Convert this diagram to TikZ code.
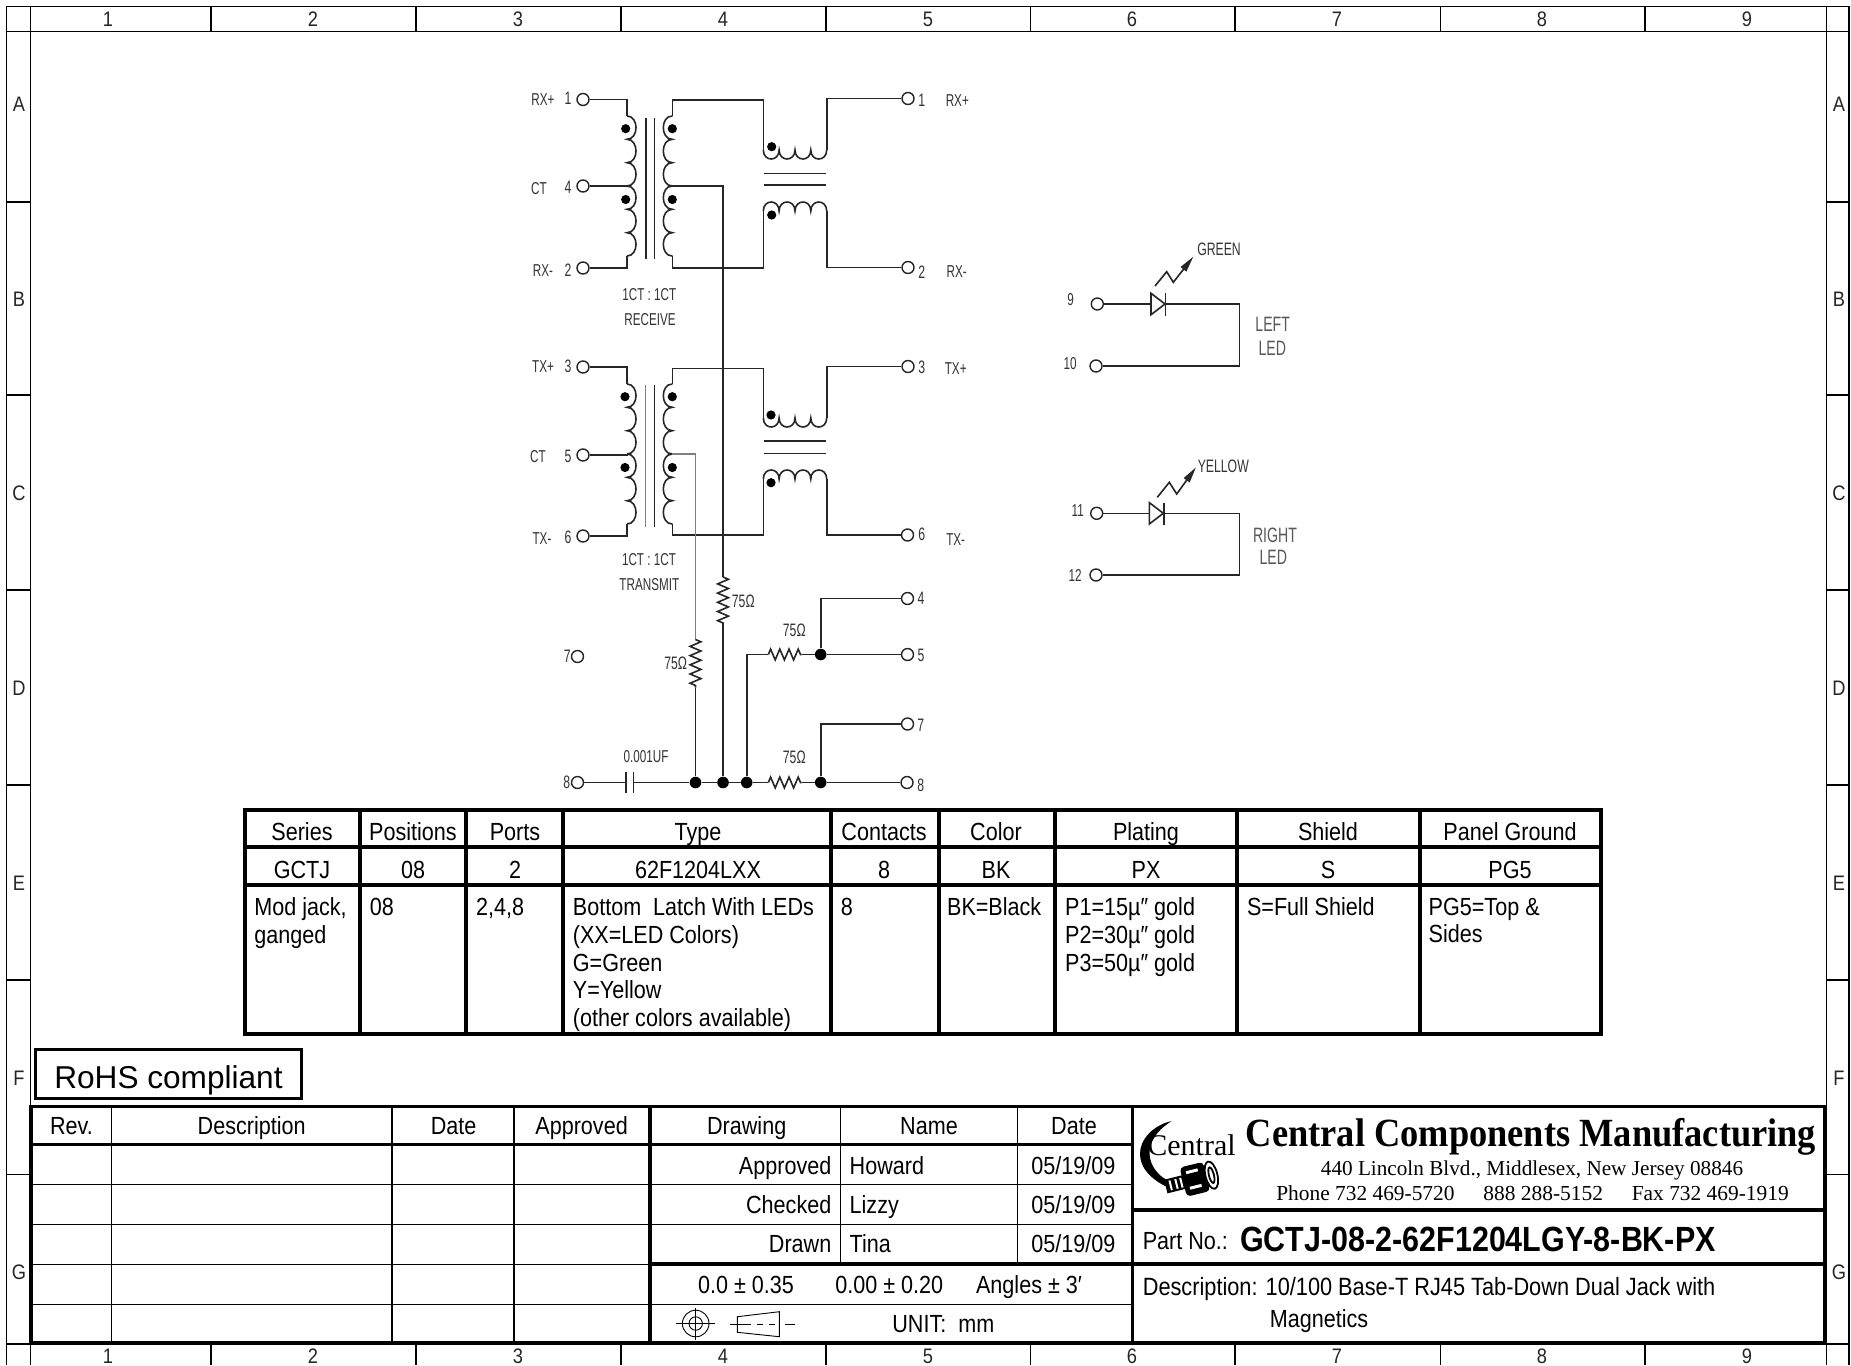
\documentclass[tikz,border=0pt]{standalone}
\usepackage{fontspec}
\usepackage{tikz}
\usepackage{xcolor}
\usetikzlibrary{arrows.meta,calc,shapes,decorations.pathmorphing}
\setmainfont[FakeStretch=0.87]{Liberation Sans}
\newfontfamily\schemfont[FakeStretch=0.68]{Liberation Sans}
\newfontfamily\rohsfont{Liberation Sans}
\newfontfamily\logofont{Liberation Serif}
\newfontfamily\companyfont[FakeStretch=0.91]{Liberation Serif}
\tikzstyle{wire} =
  [ line width=0.8pt
  , color=black!85
  ]
\tikzstyle{faint_wire} =
  [ line width=0.7pt
  , color=black!50
  ]
\tikzstyle{resistor} =
  [ wire
  , decorate
  , decoration={zigzag,segment length=4.6pt,amplitude=2.7pt}
  ]
\tikzstyle{terminal} =
  [ circle
  , draw=black!85
  , line width=0.7pt
  , fill=white
  , minimum size=6pt
  , inner sep=0pt
  ]
\tikzstyle{dotmark} =
  [ circle
  , fill=black
  , minimum size=4.6pt
  , inner sep=0pt
  ]
\tikzstyle{junction} =
  [ circle
  , fill=black
  , minimum size=5.8pt
  , inner sep=0pt
  ]
\tikzstyle{schem} =
  [ font=\schemfont\fontsize{8.6}{9}\selectfont
  , text=black!80
  , inner sep=0pt
  ]
\tikzstyle{pin_num} =
  [ font=\schemfont\fontsize{9}{10}\selectfont
  , text=black!80
  , inner sep=0pt
  ]
\tikzstyle{led_name} =
  [ font=\schemfont\fontsize{10.4}{12}\selectfont
  , text=black!65
  , inner sep=0pt
  ]
\tikzstyle{led_ray} =
  [ wire
  , -{Triangle[length=8pt,width=3.5pt]}
  ]
\tikzstyle{frame_line} =
  [ line width=0.65pt
  ]
\tikzstyle{frame_label} =
  [ font=\fontsize{10.5}{12}\selectfont
  , text=black!85
  , text height=7.5pt
  , text depth=0pt
  , inner sep=0pt
  ]
\tikzstyle{heavy_line} =
  [ line width=1.6pt
  ]
\tikzstyle{thin_line} =
  [ line width=0.6pt
  ]
\tikzstyle{symbol_line} =
  [ line width=0.45pt
  ]
\tikzstyle{cell_text} =
  [ font=\fontsize{12.4}{13.85}\selectfont
  , text height=8.9pt
  , text depth=0pt
  , inner sep=0pt
  ]
\tikzstyle{cell_block} =
  [ font=\fontsize{12.4}{13.85}\selectfont
  , anchor=north west
  , align=left
  , inner sep=0pt
  ]
\tikzset
  { winding/.pic={\draw[wire] (0,0) .. controls (12,0) and (12,23.3) .. (0,23.3)
      .. controls (12,23.3) and (12,46.7) .. (0,46.7) .. controls (12,46.7) and (12,70) .. (0,70);}
  , lobes/.pic={\draw[wire] (0,0) .. controls (0,12) and (15.8,12) .. (15.8,0)
      .. controls (15.8,12) and (31.7,12) .. (31.7,0) .. controls (31.7,12) and (47.5,12) .. (47.5,0)
      .. controls (47.5,12) and (63.4,12) .. (63.4,0);}
  }

\begin{document}
\begin{tikzpicture}[x=0.5pt,y=-0.5pt]
    \useasboundingbox (0,0) rectangle (1851,1365);
    \fill[white] (0,0) rectangle (1851,1365);

    % drawing frame
    \draw[frame_line] (6.3,1365) -- (6.3,6.3) -- (1849,6.3) -- (1849,1365);
    \draw[frame_line] (6.3,31.3) -- (1849,31.3);
    \draw[frame_line] (6.3,1344) -- (1849,1344);
    \draw[frame_line] (30.5,6.3) -- (30.5,1365);
    \draw[frame_line] (1826.5,6.3) -- (1826.5,1365);
    \draw[frame_line] (211,6.3) -- (211,31.3) (416,6.3) -- (416,31.3) (621,6.3) -- (621,31.3) (826,6.3) -- (826,31.3);
    \draw[frame_line] (1030.5,6.3) -- (1030.5,31.3) (1235,6.3) -- (1235,31.3) (1440.5,6.3) -- (1440.5,31.3) (1645,6.3) -- (1645,31.3);
    \draw[frame_line] (211,1344) -- (211,1365) (416,1344) -- (416,1365) (621,1344) -- (621,1365) (826,1344) -- (826,1365);
    \draw[frame_line] (1030.5,1344) -- (1030.5,1365) (1235,1344) -- (1235,1365) (1440.5,1344) -- (1440.5,1365) (1645,1344) -- (1645,1365);
    \draw[frame_line] (6.3,202) -- (30.5,202) (6.3,395) -- (30.5,395) (6.3,590) -- (30.5,590);
    \draw[frame_line] (6.3,785) -- (30.5,785) (6.3,980) -- (30.5,980) (6.3,1174.5) -- (30.5,1174.5);
    \draw[frame_line] (1826.5,202) -- (1849,202) (1826.5,395) -- (1849,395) (1826.5,590) -- (1849,590);
    \draw[frame_line] (1826.5,785) -- (1849,785) (1826.5,980) -- (1849,980) (1826.5,1174.5) -- (1849,1174.5);

    \node[frame_label] (top_1) at (108,19) {1};
    \node[frame_label] (top_2) at (313,19) {2};
    \node[frame_label] (top_3) at (518,19) {3};
    \node[frame_label] (top_4) at (723,19) {4};
    \node[frame_label] (top_5) at (928,19) {5};
    \node[frame_label] (top_6) at (1132,19) {6};
    \node[frame_label] (top_7) at (1337,19) {7};
    \node[frame_label] (top_8) at (1542,19) {8};
    \node[frame_label] (top_9) at (1747,19) {9};
    \node[frame_label] (bot_1) at (108,1356) {1};
    \node[frame_label] (bot_2) at (313,1356) {2};
    \node[frame_label] (bot_3) at (518,1356) {3};
    \node[frame_label] (bot_4) at (723,1356) {4};
    \node[frame_label] (bot_5) at (928,1356) {5};
    \node[frame_label] (bot_6) at (1132,1356) {6};
    \node[frame_label] (bot_7) at (1337,1356) {7};
    \node[frame_label] (bot_8) at (1542,1356) {8};
    \node[frame_label] (bot_9) at (1747,1356) {9};
    \node[frame_label] (left_a) at (19,104) {A};
    \node[frame_label] (left_b) at (19,299) {B};
    \node[frame_label] (left_c) at (19,493) {C};
    \node[frame_label] (left_d) at (19,688) {D};
    \node[frame_label] (left_e) at (19,883) {E};
    \node[frame_label] (left_f) at (19,1078) {F};
    \node[frame_label] (left_g) at (19,1272) {G};
    \node[frame_label] (right_a) at (1839,104) {A};
    \node[frame_label] (right_b) at (1839,299) {B};
    \node[frame_label] (right_c) at (1839,493) {C};
    \node[frame_label] (right_d) at (1839,688) {D};
    \node[frame_label] (right_e) at (1839,883) {E};
    \node[frame_label] (right_f) at (1839,1078) {F};
    \node[frame_label] (right_g) at (1839,1272) {G};

    % terminals, left side
    \node[terminal] (in_1) at (583,99.5) {};
    \node[terminal] (in_4) at (583,186) {};
    \node[terminal] (in_2) at (583,268) {};
    \node[terminal] (in_3) at (583,367) {};
    \node[terminal] (in_5) at (583,455) {};
    \node[terminal] (in_6) at (583,536) {};
    \node[terminal] (in_7) at (577.5,656.5) {};
    \node[terminal] (in_8) at (577.5,782.5) {};

    % terminals, right side
    \node[terminal] (out_1) at (908,98.5) {};
    \node[terminal] (out_2) at (908,267.5) {};
    \node[terminal] (out_3) at (908,366.5) {};
    \node[terminal] (out_6) at (907.5,535) {};
    \node[terminal] (out_4) at (907.5,598.5) {};
    \node[terminal] (out_5) at (907.5,654.5) {};
    \node[terminal] (out_7) at (907.5,724) {};
    \node[terminal] (out_8) at (907,782.5) {};

    % receive transformer
    \coordinate (rx_left_top) at (627,116);
    \coordinate (rx_left_mid) at (627,186);
    \coordinate (rx_left_bot) at (627,256);
    \coordinate (rx_right_top) at (672.3,116);
    \coordinate (rx_right_mid) at (672.3,186);
    \coordinate (rx_right_bot) at (672.3,256);
    \coordinate (rx_up_in) at (763.3,150);
    \coordinate (rx_up_out) at (826.7,150);
    \coordinate (rx_low_in) at (763.3,211);
    \coordinate (rx_low_out) at (826.7,211);
    \pic at (rx_left_top) {winding};
    \pic at (rx_left_mid) {winding};
    \pic[xscale=-1] at (rx_right_top) {winding};
    \pic[xscale=-1] at (rx_right_mid) {winding};
    \pic at (rx_up_in) {lobes};
    \pic[yscale=-1] at (rx_low_in) {lobes};
    \draw[wire] (645.7,118.3) -- (645.7,259.3) (654.3,118.3) -- (654.3,259.3);
    \draw[wire] (764,173.3) -- (826,173.3) (764,185) -- (826,185);
    \node[dotmark] (rx_dot_a) at (625.7,128.7) {};
    \node[dotmark] (rx_dot_b) at (625.7,199.5) {};
    \node[dotmark] (rx_dot_c) at (672.3,128.7) {};
    \node[dotmark] (rx_dot_d) at (672.3,199.5) {};
    \node[dotmark] (rx_dot_e) at (771.7,146.7) {};
    \node[dotmark] (rx_dot_f) at (771.7,215) {};
    \draw[wire] (in_1) -| (rx_left_top);
    \draw[wire] (in_4) -- (rx_left_mid);
    \draw[wire] (in_2) -| (rx_left_bot);
    \draw[wire] (rx_right_top) -- ++(0,-16) -| (rx_up_in);
    \draw[wire] (rx_right_bot) -- ++(0,12) -| (rx_low_in);
    \draw[wire] (rx_up_out) |- (out_1);
    \draw[wire] (rx_low_out) |- (out_2);

    % transmit transformer
    \coordinate (tx_left_top) at (627,384);
    \coordinate (tx_left_mid) at (627,454);
    \coordinate (tx_left_bot) at (627,524);
    \coordinate (tx_right_top) at (672.3,384);
    \coordinate (tx_right_mid) at (672.3,454);
    \coordinate (tx_right_bot) at (672.3,524);
    \coordinate (tx_up_in) at (763.3,418);
    \coordinate (tx_up_out) at (826.7,418);
    \coordinate (tx_low_in) at (763.3,479);
    \coordinate (tx_low_out) at (826.7,479);
    \pic at (tx_left_top) {winding};
    \pic at (tx_left_mid) {winding};
    \pic[xscale=-1] at (tx_right_top) {winding};
    \pic[xscale=-1] at (tx_right_mid) {winding};
    \pic at (tx_up_in) {lobes};
    \pic[yscale=-1] at (tx_low_in) {lobes};
    \draw[faint_wire] (645.7,385) -- (645.7,526.7);
    \draw[wire] (654.3,385) -- (654.3,526.7);
    \draw[wire] (764,441) -- (826,441) (764,453.3) -- (826,453.3);
    \node[dotmark] (tx_dot_a) at (625,396.7) {};
    \node[dotmark] (tx_dot_b) at (625,467.5) {};
    \node[dotmark] (tx_dot_c) at (672.3,396.7) {};
    \node[dotmark] (tx_dot_d) at (672.3,467.5) {};
    \node[dotmark] (tx_dot_e) at (771,415) {};
    \node[dotmark] (tx_dot_f) at (771,482.7) {};
    \draw[wire] (in_3) -| (tx_left_top);
    \draw[wire] (in_5) -| (tx_left_mid);
    \draw[wire] (in_6) -| (tx_left_bot);
    \draw[wire] (tx_right_top) -- ++(0,-15.7) -| (tx_up_in);
    \draw[wire] (tx_right_bot) -- ++(0,11) -| (tx_low_in);
    \draw[wire] (tx_up_out) |- (out_3);
    \draw[wire] (tx_low_out) |- (out_6);

    % resistors and bus
    \coordinate (res_a_top) at (723,577);
    \coordinate (res_a_bot) at (723,625);
    \coordinate (res_b_top) at (695.5,639.5);
    \coordinate (res_b_bot) at (695.5,687.5);
    \coordinate (res_c_in) at (768.3,654.5);
    \coordinate (res_c_out) at (801.7,654.5);
    \coordinate (res_d_in) at (768.3,782.5);
    \coordinate (res_d_out) at (801.7,782.5);
    \coordinate (cap_in) at (626,782.5);
    \coordinate (cap_out) at (633.5,782.5);
    \node[junction] (bus_a) at (695.5,782.5) {};
    \node[junction] (bus_b) at (723,782.5) {};
    \node[junction] (bus_c) at (746.7,782.5) {};
    \node[junction] (bus_d) at (820.7,782.5) {};
    \node[junction] (join_e) at (820.7,654.5) {};
    \draw[wire] (rx_right_mid) -| (res_a_top);
    \draw[resistor] (res_a_top) -- (res_a_bot);
    \draw[wire] (res_a_bot) -- (bus_b);
    \draw[faint_wire] (tx_right_mid) -| (res_b_top);
    \draw[resistor] (res_b_top) -- (res_b_bot);
    \draw[wire] (res_b_bot) -- (bus_a);
    \draw[wire] (in_8) -- (cap_in);
    \draw[wire] (626,771.5) -- (626,793) (633.5,771.5) -- (633.5,793);
    \draw[wire] (cap_out) -- (bus_a) -- (bus_b) -- (bus_c) -- (res_d_in);
    \draw[resistor] (res_d_in) -- (res_d_out);
    \draw[wire] (res_d_out) -- (bus_d) -- (out_8);
    \draw[wire] (bus_c) |- (res_c_in);
    \draw[resistor] (res_c_in) -- (res_c_out);
    \draw[wire] (res_c_out) -- (join_e) -- (out_5);
    \draw[wire] (join_e) |- (out_4);
    \draw[wire] (bus_d) |- (out_7);

    % schematic labels
    \node[schem] (rx_p_in) at (543,99.5) {RX+};
    \node[pin_num] (num_1) at (568,98) {1};
    \node[schem] (ct_rx) at (539,189) {CT};
    \node[pin_num] (num_4) at (568,187) {4};
    \node[schem] (rx_m_in) at (543,270.5) {RX-};
    \node[pin_num] (num_2) at (568,270) {2};
    \node[schem] (tx_p_in) at (543,366.5) {TX+};
    \node[pin_num] (num_3) at (568,366) {3};
    \node[schem] (ct_tx) at (538,457) {CT};
    \node[pin_num] (num_5) at (568,456) {5};
    \node[schem] (tx_m_in) at (542,539) {TX-};
    \node[pin_num] (num_6) at (568,537.5) {6};
    \node[pin_num] (num_7) at (567.3,656.5) {7};
    \node[pin_num] (num_8) at (566.7,782.5) {8};
    \node[schem] (ratio_rx) at (649.3,295) {1CT : 1CT};
    \node[schem] (receive) at (650,319.3) {RECEIVE};
    \node[schem] (ratio_tx) at (649,559.3) {1CT : 1CT};
    \node[schem] (transmit) at (649.3,585) {TRANSMIT};
    \node[pin_num] (num_o1) at (921.7,100) {1};
    \node[schem] (rx_p_out) at (957.3,100.7) {RX+};
    \node[pin_num] (num_o2) at (921.7,272.3) {2};
    \node[schem] (rx_m_out) at (956.7,271.7) {RX-};
    \node[pin_num] (num_o3) at (921.7,367.7) {3};
    \node[schem] (tx_p_out) at (955.7,369) {TX+};
    \node[pin_num] (num_o6) at (921.7,534.3) {6};
    \node[schem] (tx_m_out) at (955.7,540) {TX-};
    \node[pin_num] (num_o4) at (921,598.3) {4};
    \node[pin_num] (num_o5) at (921,655) {5};
    \node[pin_num] (num_o7) at (920.7,725.7) {7};
    \node[pin_num] (num_o8) at (920.7,785) {8};
    \node[pin_num] (ohm_a) at (743.3,601) {75Ω};
    \node[pin_num] (ohm_b) at (675.7,663.3) {75Ω};
    \node[pin_num] (ohm_c) at (794.3,630) {75Ω};
    \node[pin_num] (ohm_d) at (794.3,757.7) {75Ω};
    \node[schem] (cap_value) at (646,756.7) {0.001UF};

    % green led
    \node[terminal] (led_9) at (1097.3,304) {};
    \node[terminal] (led_10) at (1096,366) {};
    \coordinate (green_in) at (1151,304);
    \coordinate (green_out) at (1165.5,304);
    \coordinate (green_turn) at (1239.3,304);
    \draw[wire] (1151,293.3) -- (1165,304) -- (1151,314.7) -- cycle;
    \draw[wire] (1165.5,293.3) -- (1165.5,315.5);
    \draw[wire] (led_9) -- (green_in);
    \draw[wire] (green_out) -- (green_turn) |- (led_10);
    \draw[led_ray] (1155,286) -- (1166.7,271.7) -- (1173.3,282.3) -- (1193.3,256.7);
    \node[schem] (num_9) at (1070.7,299.3) {9};
    \node[schem] (num_10) at (1070,364) {10};
    \node[pin_num] (green) at (1219,249.3) {GREEN};
    \node[led_name] (left_word) at (1272.7,324) {LEFT};
    \node[led_name] (left_led) at (1272.3,348.3) {LED};

    % yellow led
    \node[terminal] (led_11) at (1096.7,513.3) {};
    \node[terminal] (led_12) at (1096,575) {};
    \coordinate (yellow_in) at (1149.3,513.3);
    \coordinate (yellow_out) at (1164,513.3);
    \coordinate (yellow_turn) at (1239.3,513.3);
    \draw[wire] (1149.3,502.6) -- (1163.3,513.3) -- (1149.3,524) -- cycle;
    \draw[wire] (1164,502.6) -- (1164,524.5);
    \draw[wire] (led_11) -- (yellow_in);
    \draw[wire] (yellow_out) -- (yellow_turn) |- (led_12);
    \draw[led_ray] (1157.3,497.3) -- (1169.3,482.3) -- (1176.7,494) -- (1196,467.3);
    \node[schem] (num_11) at (1077.7,511) {11};
    \node[schem] (num_12) at (1075,575.7) {12};
    \node[pin_num] (yellow) at (1223.3,466.7) {YELLOW};
    \node[led_name] (right_word) at (1275,535) {RIGHT};
    \node[led_name] (right_led) at (1273.3,557.3) {LED};

    % ordering table
    \draw[heavy_line] (245,810) rectangle (1601,1034);
    \draw[heavy_line] (245,847) -- (1601,847) (245,885) -- (1601,885);
    \draw[heavy_line] (360,810) -- (360,1034) (466,810) -- (466,1034) (563,810) -- (563,1034);
    \draw[heavy_line] (831,810) -- (831,1034) (939,810) -- (939,1034) (1055,810) -- (1055,1034);
    \draw[heavy_line] (1237,810) -- (1237,1034) (1420,810) -- (1420,1034);
    \node[cell_text] (head_series) at (302,832) {Series};
    \node[cell_text] (head_positions) at (413,832) {Positions};
    \node[cell_text] (head_ports) at (515,832) {Ports};
    \node[cell_text] (head_type) at (698,832) {Type};
    \node[cell_text] (head_contacts) at (884,832) {Contacts};
    \node[cell_text] (head_color) at (996,832) {Color};
    \node[cell_text] (head_plating) at (1146,832) {Plating};
    \node[cell_text] (head_shield) at (1328,832) {Shield};
    \node[cell_text] (head_panel) at (1510,832) {Panel Ground};
    \node[cell_text] (code_series) at (302,870) {GCTJ};
    \node[cell_text] (code_positions) at (413,870) {08};
    \node[cell_text] (code_ports) at (515,870) {2};
    \node[cell_text] (code_type) at (698,870) {62F1204LXX};
    \node[cell_text] (code_contacts) at (884,870) {8};
    \node[cell_text] (code_color) at (996,870) {BK};
    \node[cell_text] (code_plating) at (1146,870) {PX};
    \node[cell_text] (code_shield) at (1328,870) {S};
    \node[cell_text] (code_panel) at (1510,870) {PG5};
    \node[cell_block] (opt_series) at (254,897.5) {Mod jack,\\ganged};
    \node[cell_block] (opt_positions) at (369.5,897.5) {08};
    \node[cell_block] (opt_ports) at (475.7,897.5) {2,4,8};
    \node[cell_block] (opt_type) at (572.5,897.5) {Bottom\ \ Latch With LEDs\\(XX=LED Colors)\\G=Green\\Y=Yellow\\(other colors available)};
    \node[cell_block] (opt_contacts) at (840.5,897.5) {8};
    \node[cell_block] (opt_color) at (946.7,897.5) {BK=Black};
    \node[cell_block] (opt_plating) at (1064.8,897.5) {P1=15µ″ gold\\P2=30µ″ gold\\P3=50µ″ gold};
    \node[cell_block] (opt_shield) at (1246.6,897.5) {S=Full Shield};
    \node[cell_block] (opt_panel) at (1428.3,897.5) {PG5=Top \&\\Sides};

    % rohs stamp
    \node[draw,line width=1.3pt,minimum width=133pt,minimum height=24.5pt,inner sep=0pt,text height=14.4pt,text depth=0pt,font=\rohsfont\fontsize{15.8}{18}\selectfont] (rohs) at (168.5,1074) {RoHS compliant};

    % title block grid
    \draw[heavy_line] (31,1106.7) rectangle (1825,1342.7);
    \draw[heavy_line] (31,1144.3) -- (1132.7,1144.3);
    \draw[heavy_line] (650,1106.7) -- (650,1342.7) (1132.7,1106.7) -- (1132.7,1342.7);
    \draw[heavy_line] (650,1264) -- (1825,1264) (1132.7,1210) -- (1825,1210);
    \draw[thin_line] (31,1184.3) -- (1132.7,1184.3) (31,1224.3) -- (1132.7,1224.3);
    \draw[thin_line] (31,1264.3) -- (650,1264.3) (31,1304.3) -- (1132.7,1304.3);
    \draw[thin_line] (111.5,1106.7) -- (111.5,1342.7) (392,1106.7) -- (392,1342.7) (514,1106.7) -- (514,1342.7);
    \draw[thin_line] (840.7,1106.7) -- (840.7,1264) (1017.3,1106.7) -- (1017.3,1264);

    \node[cell_text] (rev_head) at (71.5,1126) {Rev.};
    \node[cell_text] (desc_head) at (251.7,1126) {Description};
    \node[cell_text] (date_head) at (453.7,1126) {Date};
    \node[cell_text] (appr_head) at (581.6,1126) {Approved};
    \node[cell_text] (draw_head) at (746.7,1126) {Drawing};
    \node[cell_text] (name_head) at (929,1126) {Name};
    \node[cell_text] (sign_head) at (1074,1126) {Date};
    \node[cell_text,anchor=east] (approved) at (831.7,1166) {Approved};
    \node[cell_text,anchor=east] (checked) at (831.7,1205) {Checked};
    \node[cell_text,anchor=east] (drawn) at (831.7,1244) {Drawn};
    \node[cell_text,anchor=west] (howard) at (849.3,1166) {Howard};
    \node[cell_text,anchor=west] (lizzy) at (849.3,1205) {Lizzy};
    \node[cell_text,anchor=west] (tina) at (849.3,1244) {Tina};
    \node[cell_text] (date_a) at (1073.3,1166) {05/19/09};
    \node[cell_text] (date_b) at (1073.3,1205) {05/19/09};
    \node[cell_text] (date_c) at (1073.3,1244) {05/19/09};
    \node[cell_text] (tol_a) at (746,1285) {0.0 ± 0.35};
    \node[cell_text] (tol_b) at (889.3,1285) {0.00 ± 0.20};
    \node[cell_text] (tol_c) at (1029,1285) {Angles ± 3′};
    \node[cell_text] (unit) at (943.3,1324) {UNIT:\ \ mm};

    % projection symbols
    \draw[symbol_line] (695.7,1323.5) circle (13.3) (695.7,1323.5) circle (6.7);
    \draw[symbol_line] (676,1323.5) -- (715,1323.5) (695.7,1307.7) -- (695.7,1340);
    \draw[symbol_line] (737.3,1316.7) -- (779.3,1311.7) -- (779.3,1336.7) -- (737.3,1332.3) -- cycle;
    \draw[symbol_line] (730,1324) -- (745,1324) (785,1324) -- (795,1324);
    \draw[symbol_line,dashed] (745,1324) -- (779,1324);

    % company logo
    \fill (1171.7,1121) .. controls (1140,1128) and (1122,1165) .. (1167,1187) -- (1167,1180)
      .. controls (1148,1170) and (1138,1142) .. (1171.7,1121) -- cycle;
    \node[font=\logofont\fontsize{15}{17}\selectfont,inner sep=0pt,anchor=base west] (logo_name) at (1147,1155) {Central};
    \begin{scope}[shift={(1192,1180)},rotate=14]
      \fill (-27,-7) rectangle (-8,7);
      \fill[white] (-23,-5) rectangle (-21,5) (-17,-5) rectangle (-15,5) (-12,-5) rectangle (-10,5);
      \fill[rounded corners=2pt] (-9,-15) rectangle (15,15);
      \fill[white] (-4,-10) rectangle (8,-7) (-4,6) rectangle (8,9);
      \draw[line width=0.9pt,fill=white] (20,0) ellipse (6 and 14);
      \draw[line width=0.9pt] (20,0) ellipse (2.5 and 8);
    \end{scope}

    % company block
    \node[font=\companyfont\bfseries\fontsize{20}{22}\selectfont,inner sep=0pt] (company) at (1531,1137) {Central Components Manufacturing};
    \node[font=\logofont\fontsize{10.6}{12}\selectfont,inner sep=0pt] (address) at (1532,1170) {440 Lincoln Blvd., Middlesex, New Jersey 08846};
    \node[font=\logofont\fontsize{10.7}{12}\selectfont,inner sep=0pt] (phones) at (1532.5,1193.3) {Phone 732 469-5720\hspace{1.35em}888 288-5152\hspace{1.35em}Fax 732 469-1919};
    \node[cell_text,anchor=west] (part_word) at (1142.4,1241) {Part No.:};
    \node[font=\bfseries\fontsize{17.5}{20}\selectfont,text height=12.5pt,text depth=0pt,inner sep=0pt] (part_no) at (1478,1239) {GCTJ-08-2-62F1204LGY-8-BK-PX};
    \node[cell_text,anchor=west,font=\fontsize{12.5}{14}\selectfont] (desc_a) at (1142.4,1287) {Description: 10/100 Base-T RJ45 Tab-Down Dual Jack with};
    \node[cell_text,anchor=west] (desc_b) at (1269.4,1319) {Magnetics};
\end{tikzpicture}
\end{document}
